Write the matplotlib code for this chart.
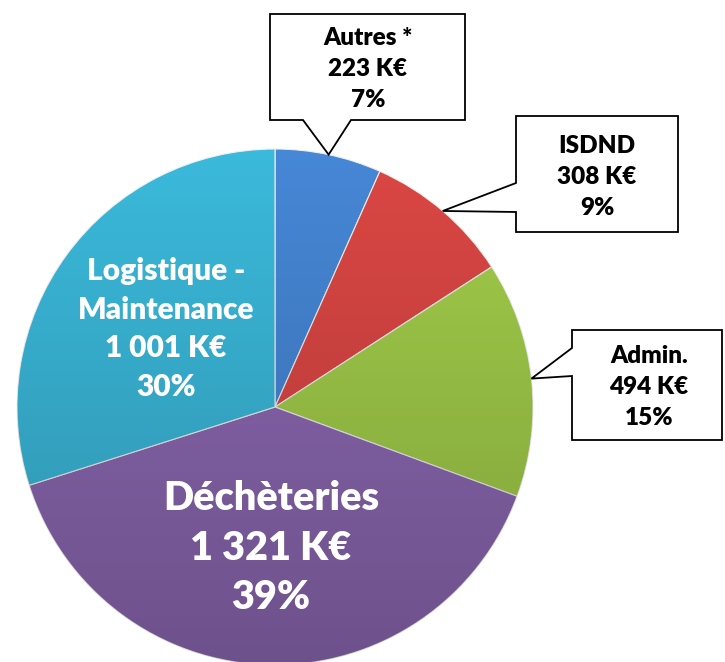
import numpy as np
import matplotlib
matplotlib.use("Agg")
import matplotlib.pyplot as plt
from matplotlib.patches import Polygon, Circle

plt.rcParams['font.family'] = ['Lato', 'DejaVu Sans']

# data
labels = ["Autres *", "ISDND", "Admin.", "Déchèteries", "Logistique -\nMaintenance"]
values = [223, 308, 494, 1321, 1001]
colors = ["#4687D6", "#DB4744", "#A2CD4A", "#8C68B2", "#3BB9DB"]

W, H = 725, 662
fig = plt.figure(figsize=(W / 100, H / 100), dpi=100)
ax = fig.add_axes([0, 0, 1, 1])

cx, cy, r = 275, H - 407, 258
wedges, _ = ax.pie(values, colors=colors, startangle=90, counterclock=False,
                   center=(cx, cy), radius=r, frame=True,
                   wedgeprops=dict(edgecolor="#f0f0f0", linewidth=0.8))
ax.set_xlim(0, W)
ax.set_ylim(0, H)
ax.set_aspect("equal")
ax.axis("off")

# soft top-to-bottom shading, like the glossy office style
t = np.linspace(0, 1, 256)[:, None] * np.ones((1, 2))
shade = np.zeros((256, 2, 4))
shade[..., 3] = 0.22 * (1 - t)
im = ax.imshow(shade, extent=(cx - r, cx + r, cy - r, cy + r), origin="lower",
               aspect="auto", zorder=2, interpolation="bilinear")
im.set_clip_path(Circle((cx, cy), r, transform=ax.transData))
ax.set_xlim(0, W)
ax.set_ylim(0, H)

total = sum(values)
pcts = [round(v / total * 100) for v in values]
amounts = [f"{v:,}".replace(",", " ") + " K€" for v in values]


def tip_of(w):
    a = np.deg2rad((w.theta1 + w.theta2) / 2)
    return cx + r * np.cos(a), cy + r * np.sin(a)


def px(pts):
    return [(x, H - y) for x, y in pts]


# callout boxes (pixel layout) for the three small slices
callouts = {
    0: dict(shape=lambda t: [(270, 14), (465, 14), (465, 120), (351, 120), t, (303, 120), (270, 120)],
            text_xy=(368, 69)),
    1: dict(shape=lambda t: [(516, 116), (678, 116), (678, 232), (516, 232), (516, 212), t, (516, 183)],
            text_xy=(597, 177)),
    2: dict(shape=lambda t: [(572, 330), (722, 330), (722, 440), (572, 440), (572, 376), t, (572, 348)],
            text_xy=(649, 387)),
}
for i, c in callouts.items():
    tx, ty = tip_of(wedges[i])
    pts = c["shape"]((tx, H - ty))
    ax.add_patch(Polygon(px(pts), closed=True, facecolor="white", edgecolor="black",
                         linewidth=1.3, zorder=5))
    x, y = c["text_xy"]
    ax.text(x, H - y, f"{labels[i]}\n{amounts[i]}\n{pcts[i]}%", ha="center", va="center",
            fontsize=17.5, fontweight="heavy", color="black", linespacing=1.5, zorder=6)

# inside labels
ax.text(271, H - 548, f"{labels[3]}\n{amounts[3]}\n{pcts[3]}%", ha="center", va="center",
        fontsize=28.5, fontweight="heavy", color="white", linespacing=1.43, zorder=6)
ax.text(166, H - 329, f"{labels[4]}\n{amounts[4]}\n{pcts[4]}%", ha="center", va="center",
        fontsize=21.5, fontweight="heavy", color="white", linespacing=1.45, zorder=6)

fig.savefig("out.png", dpi=100)
